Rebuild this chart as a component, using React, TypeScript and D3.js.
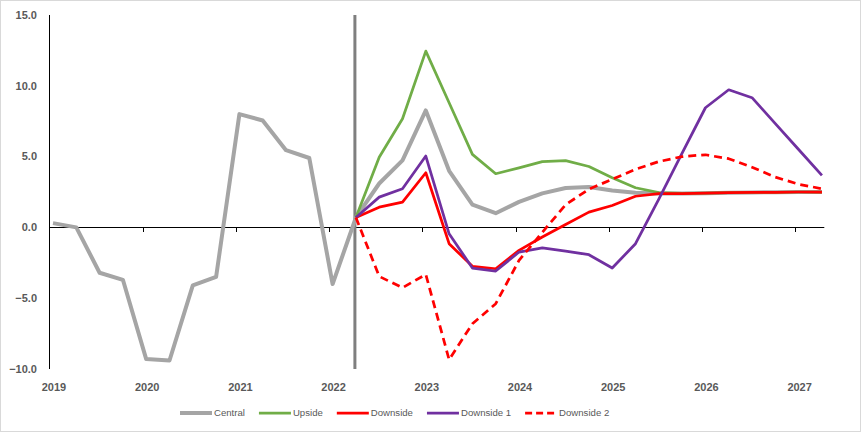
import React, { useEffect, useRef } from "react";
import * as d3 from "d3";

// Quarterly data, 2019 Q1 .. 2027 Q2 (34 quarters)
const years = [2019, 2020, 2021, 2022, 2023, 2024, 2025, 2026, 2027];
const yTicks = [-10, -5, 0, 5, 10, 15];
const forecastStart = 13; // index of 2022 Q2

const central = [
  0.3, 0.0, -3.2, -3.7, -9.3, -9.4, -4.1, -3.5, 8.0, 7.55, 5.45, 4.9, -4.0,
  0.7, 3.1, 4.73, 8.26, 4.0, 1.6, 1.0, 1.8, 2.4, 2.78, 2.85, 2.6, 2.45, 2.4,
  2.4, 2.42, 2.45, 2.47, 2.48, 2.5, 2.5,
];
const upside = [
  null, null, null, null, null, null, null, null, null, null, null, null, null,
  0.7, 4.96, 7.67, 12.45, 8.8, 5.16, 3.79, 4.2, 4.64, 4.71, 4.3, 3.5, 2.8, 2.45,
  2.4, 2.42, 2.45, 2.47, 2.48, 2.5, 2.5,
];
const downside = [
  null, null, null, null, null, null, null, null, null, null, null, null, null,
  0.7, 1.43, 1.79, 3.86, -1.15, -2.75, -2.92, -1.62, -0.68, 0.21, 1.08, 1.55,
  2.2, 2.38, 2.38, 2.42, 2.45, 2.47, 2.48, 2.5, 2.5,
];
const downside1 = [
  null, null, null, null, null, null, null, null, null, null, null, null, null,
  0.7, 2.14, 2.73, 5.04, -0.45, -2.87, -3.08, -1.74, -1.44, -1.67, -1.93, -2.87,
  -1.15, 2.0, 5.25, 8.45, 9.72, 9.16, 7.33, 5.5, 3.67,
];
const downside2 = [
  null, null, null, null, null, null, null, null, null, null, null, null, null,
  0.7, -3.46, -4.26, -3.32, -9.34, -6.8, -5.39, -2.33, -0.35, 1.6, 2.7, 3.4,
  4.1, 4.65, 5.0, 5.13, 4.85, 4.25, 3.55, 3.05, 2.73,
];

const seriesNames = ["Central", "Upside", "Downside", "Downside 1", "Downside 2"];
const seriesData = [central, upside, downside, downside1, downside2];
const seriesColors = ["#A5A5A5", "#70AD47", "#FF0000", "#7030A0", "#FF0000"];
const seriesWidths = [4, 2.75, 2.75, 2.75, 2.75];
const seriesDash = [null, null, null, null, "8,5"];

const W = 863;
const H = 433;
const FONT = "'Liberation Sans', Arial, sans-serif";
const TXT = "#595959";

export default function App() {
  const ref = useRef<SVGSVGElement | null>(null);

  useEffect(() => {
    const svg = d3.select(ref.current);
    svg.selectAll("*").remove();

    const x = d3.scaleLinear().domain([2019, 2027.313]).range([49.5, 824.3]);
    const y = d3.scaleLinear().domain([-10, 15]).range([369, 15]);
    const tOf = (i: number) => 2019 + 0.0375 + i * 0.25;

    svg
      .append("rect")
      .attr("x", 0.5)
      .attr("y", 0.5)
      .attr("width", 860)
      .attr("height", 431)
      .attr("fill", "#fff")
      .attr("stroke", "#d9d9d9");

    // y axis
    svg
      .append("line")
      .attr("x1", x(2019))
      .attr("x2", x(2019))
      .attr("y1", y(15))
      .attr("y2", y(-10))
      .attr("stroke", "#000")
      .attr("stroke-width", 1);
    svg
      .append("g")
      .selectAll("text")
      .data(yTicks)
      .join("text")
      .attr("x", 37)
      .attr("y", (d) => y(d))
      .attr("dy", "0.35em")
      .attr("text-anchor", "end")
      .attr("font-family", FONT)
      .attr("font-weight", "bold")
      .attr("font-size", 11)
      .attr("fill", TXT)
      .text((d) => d3.format(".1f")(d));

    // x axis at zero
    svg
      .append("line")
      .attr("x1", x(2019))
      .attr("x2", x.range()[1])
      .attr("y1", Math.round(y(0)) + 0.5)
      .attr("y2", Math.round(y(0)) + 0.5)
      .attr("stroke", "#000")
      .attr("stroke-width", 1);
    svg
      .append("g")
      .selectAll("line")
      .data(years.slice(1))
      .join("line")
      .attr("x1", (d) => Math.round(x(d)) + 0.5)
      .attr("x2", (d) => Math.round(x(d)) + 0.5)
      .attr("y1", Math.round(y(0)))
      .attr("y2", Math.round(y(0)) + 5)
      .attr("stroke", "#000");
    svg
      .append("g")
      .selectAll("text")
      .data(years)
      .join("text")
      .attr("x", (d) => x(d) + 4.5)
      .attr("y", 387)
      .attr("dy", "0.35em")
      .attr("text-anchor", "middle")
      .attr("font-family", FONT)
      .attr("font-weight", "bold")
      .attr("font-size", 11)
      .attr("fill", TXT)
      .text((d) => String(d));

    // forecast divider
    svg
      .append("line")
      .attr("x1", x(tOf(forecastStart)) - 1)
      .attr("x2", x(tOf(forecastStart)) - 1)
      .attr("y1", y(15))
      .attr("y2", y(-10))
      .attr("stroke", "#7F7F7F")
      .attr("stroke-width", 3);

    // series
    seriesData.forEach((data, s) => {
      const line = d3
        .line<number | null>()
        .defined((d) => d !== null)
        .x((_, i) => x(tOf(i)))
        .y((d) => y(d as number));
      svg
        .append("path")
        .attr("d", line(data))
        .attr("fill", "none")
        .attr("stroke", seriesColors[s])
        .attr("stroke-width", seriesWidths[s])
        .attr("stroke-linejoin", "round")
        .attr("stroke-dasharray", seriesDash[s] as any);
    });

    // legend
    const lg = svg.append("g");
    let cx = 180;
    const ly = 413;
    seriesNames.forEach((name, s) => {
      lg.append("line")
        .attr("x1", cx)
        .attr("x2", cx + 32)
        .attr("y1", ly)
        .attr("y2", ly)
        .attr("stroke", seriesColors[s])
        .attr("stroke-width", seriesWidths[s])
        .attr("stroke-dasharray", s === 4 ? "7,4" : (null as any));
      const t = lg
        .append("text")
        .attr("x", cx + (s === 4 ? 34 : 34))
        .attr("y", ly)
        .attr("dy", "0.35em")
        .attr("font-family", FONT)
        .attr("font-size", 9.6)
        .attr("fill", TXT)
        .text(name);
      const w = (t.node() as SVGTextElement).getComputedTextLength();
      cx += 34 + w + 14;
    });
  }, []);

  return (
    <div style={{ position: "fixed", left: 0, top: 0 }}>
      <svg ref={ref} width={W} height={H} style={{ display: "block" }} />
    </div>
  );
}
